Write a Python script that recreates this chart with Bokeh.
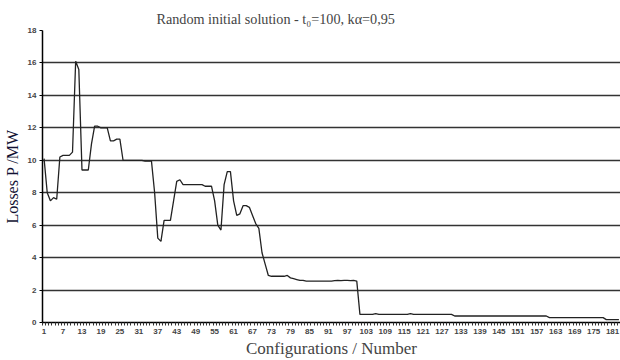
from bokeh.plotting import figure
from bokeh.models import FixedTicker, Range1d
from bokeh.embed import file_html
from bokeh.resources import INLINE

config = list(range(1, 184))

losses = (
    [10.1, 8.0, 7.5, 7.7, 7.6, 10.2, 10.3, 10.3, 10.3, 10.5,
     16.1, 15.6, 9.4, 9.4, 9.4, 11.0, 12.1, 12.1, 12.0, 12.0,
     12.0, 11.2, 11.2, 11.3, 11.3, 10.0, 10.0, 10.0, 10.0, 10.0,
     10.0, 10.0, 9.95, 9.95, 9.95, 8.0, 5.2, 5.0, 6.3, 6.3,
     6.3, 7.5, 8.7, 8.8, 8.5, 8.5, 8.5, 8.5, 8.5, 8.5,
     8.5, 8.4, 8.4, 8.4, 7.5, 6.0, 5.7, 8.5, 9.3, 9.3,
     7.5, 6.6, 6.7, 7.2, 7.2, 7.1, 6.6, 6.1, 5.8, 4.3,
     3.6, 2.9, 2.85, 2.85, 2.85, 2.85, 2.85, 2.9, 2.75, 2.7,
     2.65, 2.6, 2.6, 2.55, 2.55, 2.55, 2.55, 2.55, 2.55, 2.55,
     2.55, 2.55, 2.58, 2.6, 2.58, 2.6, 2.6, 2.58, 2.6, 2.55]
    + [0.5] * 5 + [0.55] + [0.5] * 10 + [0.55] + [0.5] * 13
    + [0.4] * 30 + [0.3] * 18 + [0.18] * 5
)

y_ticks = list(range(0, 19, 2))
x_label_ticks = list(range(1, 182, 6))
x_minor = [c - 0.5 for c in config] + [config[-1] + 0.5]

p = figure(width=620, height=360, output_backend="svg", toolbar_location=None,
           x_range=Range1d(0.5, 183.5), y_range=Range1d(0, 18),
           min_border_left=41, min_border_right=0, min_border_top=30,
           min_border_bottom=37)

p.title.text = "Random initial solution - t\u2080=100, k\u03b1=0,95"
p.title.text_font = "Liberation Serif"
p.title.text_font_size = "14.2px"
p.title.text_font_style = "normal"
p.title.align = "left"
p.title.offset = 114
p.title.standoff = 8

p.outline_line_color = None
p.background_fill_color = "white"
p.border_fill_color = "white"

p.xgrid.grid_line_color = None
p.ygrid.grid_line_color = "#333333"
p.ygrid.grid_line_width = 1.5
p.ygrid.ticker = FixedTicker(ticks=y_ticks)

p.yaxis.ticker = FixedTicker(ticks=y_ticks)
p.yaxis.major_tick_out = 3
p.yaxis.major_tick_in = 0
p.yaxis.minor_tick_line_color = None
p.yaxis.axis_line_color = "black"
p.yaxis.axis_line_width = 1.5
p.yaxis.major_label_text_font = "Liberation Sans"
p.yaxis.major_label_text_font_size = "8px"
p.yaxis.major_label_text_font_style = "bold"
p.yaxis.major_label_standoff = 3
p.yaxis.axis_label = "Losses P /MW"
p.yaxis.axis_label_text_font = "Liberation Serif"
p.yaxis.axis_label_text_font_size = "16px"
p.yaxis.axis_label_text_font_style = "normal"
p.yaxis.axis_label_text_color = "#111133"
p.yaxis.axis_label_standoff = 4

p.xaxis.ticker = FixedTicker(ticks=x_label_ticks, minor_ticks=x_minor)
p.xaxis.major_tick_out = 0
p.xaxis.major_tick_in = 0
p.xaxis.minor_tick_out = 3
p.xaxis.minor_tick_in = 0
p.xaxis.minor_tick_line_color = "#333333"
p.xaxis.axis_line_color = "black"
p.xaxis.axis_line_width = 1.5
p.xaxis.major_label_text_font = "Liberation Sans"
p.xaxis.major_label_text_font_size = "8px"
p.xaxis.major_label_text_font_style = "bold"
p.xaxis.major_label_standoff = 3
p.xaxis.axis_label = "Configurations / Number"
p.xaxis.axis_label_text_font = "Liberation Serif"
p.xaxis.axis_label_text_font_size = "17px"
p.xaxis.axis_label_text_font_style = "normal"
p.xaxis.axis_label_standoff = 2

p.line(config, losses, line_color="#222222", line_width=1.3)

open("out.html", "w").write(file_html(p, INLINE))
